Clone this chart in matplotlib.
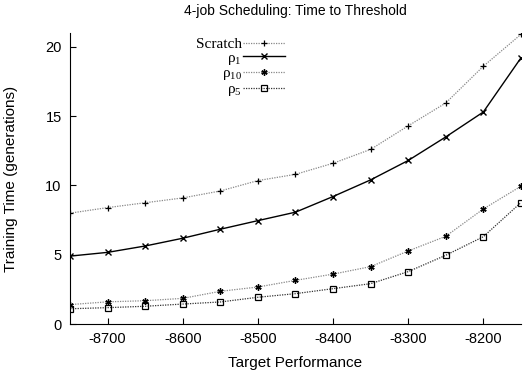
import numpy as np
import matplotlib
matplotlib.use('Agg')
import matplotlib.pyplot as plt

plt.rcParams['font.family'] = ['Liberation Sans', 'DejaVu Sans']
plt.rcParams['axes.unicode_minus'] = False

target = [-8750, -8700, -8650, -8600, -8550, -8500, -8450, -8400, -8350, -8300, -8250, -8200, -8150]
scratch = [8.0, 8.4, 8.75, 9.1, 9.6, 10.35, 10.8, 11.6, 12.6, 14.3, 15.95, 18.6, 20.9]
rho1 = [4.9, 5.17, 5.63, 6.19, 6.84, 7.46, 8.07, 9.2, 10.4, 11.8, 13.5, 15.3, 19.2]
rho10 = [1.4, 1.6, 1.68, 1.85, 2.36, 2.67, 3.15, 3.6, 4.14, 5.27, 6.33, 8.3, 9.94]
rho5 = [1.1, 1.18, 1.28, 1.44, 1.59, 1.93, 2.19, 2.55, 2.91, 3.78, 4.96, 6.3, 8.76]

fig = plt.figure(figsize=(5.23, 3.75), dpi=100)
ax = fig.add_axes([0.134, 0.136, 0.862, 0.776])

ax.plot(target, scratch, color='#888888', ls=(0, (1, 1)), lw=0.9,
        marker='+', ms=5, mec='black', mew=0.9, label='Scratch')
ax.plot(target, rho1, color='black', ls='-', lw=1.0,
        marker='x', ms=4, mec='black', mew=1.0, label=r'$\mathregular{\rho_{1}}$')
ax.plot(target, rho10, color='#888888', ls=(0, (1, 1)), lw=0.9,
        marker=(6, 2, 0), ms=4.5, mec='black', mew=1.0, label=r'$\mathregular{\rho_{10}}$')
ax.plot(target, rho5, color='#333333', ls=(0, (1, 1)), lw=0.9,
        marker='s', ms=4.5, mfc='none', mec='black', mew=0.9, label=r'$\mathregular{\rho_{5}}$')

ax.set_xlim(-8750, -8150)
ax.set_ylim(0, 21)
ax.set_xticks([-8700, -8600, -8500, -8400, -8300, -8200])
ax.set_yticks([0, 5, 10, 15, 20])
ax.spines['top'].set_visible(False)
ax.spines['right'].set_visible(False)
ax.tick_params(direction='in', length=4, labelsize=10.5, pad=6)

ax.set_title('4-job Scheduling: Time to Threshold', fontsize=10, pad=13)
ax.set_xlabel('Target Performance', fontsize=11, labelpad=7)
ax.set_ylabel('Training Time (generations)', fontsize=11, labelpad=20)

ax.legend(loc='upper right', bbox_to_anchor=(0.476, 0.985), frameon=False,
          markerfirst=False, handlelength=2.7, handletextpad=0.1,
          labelspacing=0.0, borderpad=0, borderaxespad=0,
          prop={'family': 'Liberation Serif', 'size': 11})

fig.savefig('out.png', dpi=100)
